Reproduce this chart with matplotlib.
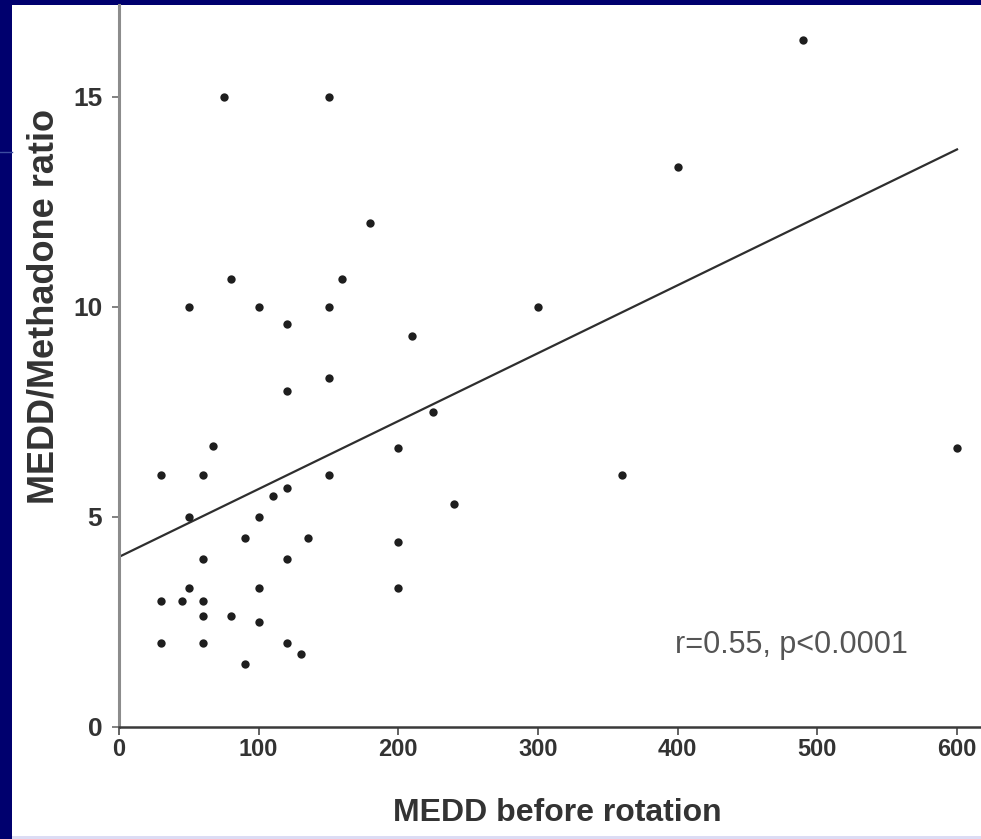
import matplotlib.pyplot as plt
from matplotlib.patches import Rectangle
from matplotlib.lines import Line2D

plt.rcParams["font.family"] = ["Liberation Sans", "DejaVu Sans"]

# MEDD before rotation vs MEDD/Methadone ratio
medd = [80, 160, 50, 100, 150, 120, 210, 150, 120, 225, 67, 30, 60, 150,
        200, 120, 110, 50, 100, 90, 135, 200, 60, 120, 50, 100, 200, 30,
        45, 60, 60, 80, 100, 30, 60, 120, 130, 90,
        75, 150, 490, 400, 300, 180, 360, 240, 600]
ratio = [10.66, 10.66, 10, 10, 10, 9.6, 9.3, 8.3, 8, 7.5, 6.7, 6, 6, 6,
         6.65, 5.7, 5.5, 5, 5, 4.5, 4.5, 4.4, 4, 4, 3.3, 3.3, 3.3, 3,
         3, 3, 2.65, 2.65, 2.5, 2, 2, 2, 1.73, 1.5,
         15, 15, 16.35, 13.33, 10, 12, 6, 5.3, 6.65]

# regression line as printed
fit_intercept = 4.05
fit_slope = 0.01617
fit_range = [0, 600]

xticks = [0, 100, 200, 300, 400, 500, 600]
yticks = [0, 5, 10, 15]
stats_text = "r=0.55, p<0.0001"

W, H = 981, 839
navy = "#00006e"
fig = plt.figure(figsize=(W / 100, H / 100), dpi=100)
fig.patch.set_facecolor(navy)

# slide: white panel on a navy background
fig.patches.append(Rectangle((12 / W, 0), 1 - 12 / W, 1 - 5 / H,
                             transform=fig.transFigure, facecolor="white",
                             edgecolor="none", zorder=-2))
fig.patches.append(Rectangle((12 / W, 0), 1 - 12 / W, 3 / H,
                             transform=fig.transFigure, facecolor="#dcdcf4",
                             edgecolor="none", zorder=-1))
fig.lines.append(Line2D([0, 12 / W], [1 - 152 / H, 1 - 152 / H],
                        transform=fig.transFigure, color="#3c4ca0", lw=1,
                        zorder=-1))

x0, y0 = 119, 727
ax = fig.add_axes([x0 / W, 1 - y0 / H, (W - x0) / W, (y0 - 5) / H])
ax.set_zorder(2)
ax.set_facecolor("none")
ax.set_xlim(0, (W - x0) / 1.3967)
ax.set_ylim(0, (y0 - 5) / 42.0)

ax.plot(medd, ratio, "o", color="#1e1e1e", markersize=6, markeredgewidth=0,
        zorder=3, clip_on=False)
fit_y = [fit_intercept + fit_slope * v for v in fit_range]
ax.plot(fit_range, fit_y, "-", color="#2e2e2e", lw=1.6, zorder=2)

ax.text(398, 1.95, stats_text, fontsize=22, color="#555555", va="center",
        ha="left")

for side in ["top", "right"]:
    ax.spines[side].set_visible(False)
ax.spines["left"].set_color("#8c8c8c")
ax.spines["left"].set_linewidth(2.2)
ax.spines["bottom"].set_color("#3a3a3a")
ax.spines["bottom"].set_linewidth(1.8)

ax.set_xticks(xticks)
ax.set_yticks(yticks)
ax.tick_params(axis="x", direction="out", length=6, width=1.3,
               color="#555555", pad=2, labelsize=17, labelcolor="#333333")
ax.tick_params(axis="y", direction="out", length=5, width=1.3,
               color="#777777", pad=7, labelsize=19, labelcolor="#333333")
for lab in ax.get_xticklabels() + ax.get_yticklabels():
    lab.set_fontweight("bold")

ax.set_xlabel("MEDD before rotation", fontsize=23, fontweight="bold",
              color="#333333", va="center")
ax.xaxis.set_label_coords(0.509, -0.119)
ax.set_ylabel("MEDD/Methadone ratio", fontsize=26, fontweight="bold",
              color="#333333", va="center")
ax.yaxis.set_label_coords(-0.087, 0.583)

fig.savefig("out.png", dpi=100, facecolor=fig.get_facecolor())
